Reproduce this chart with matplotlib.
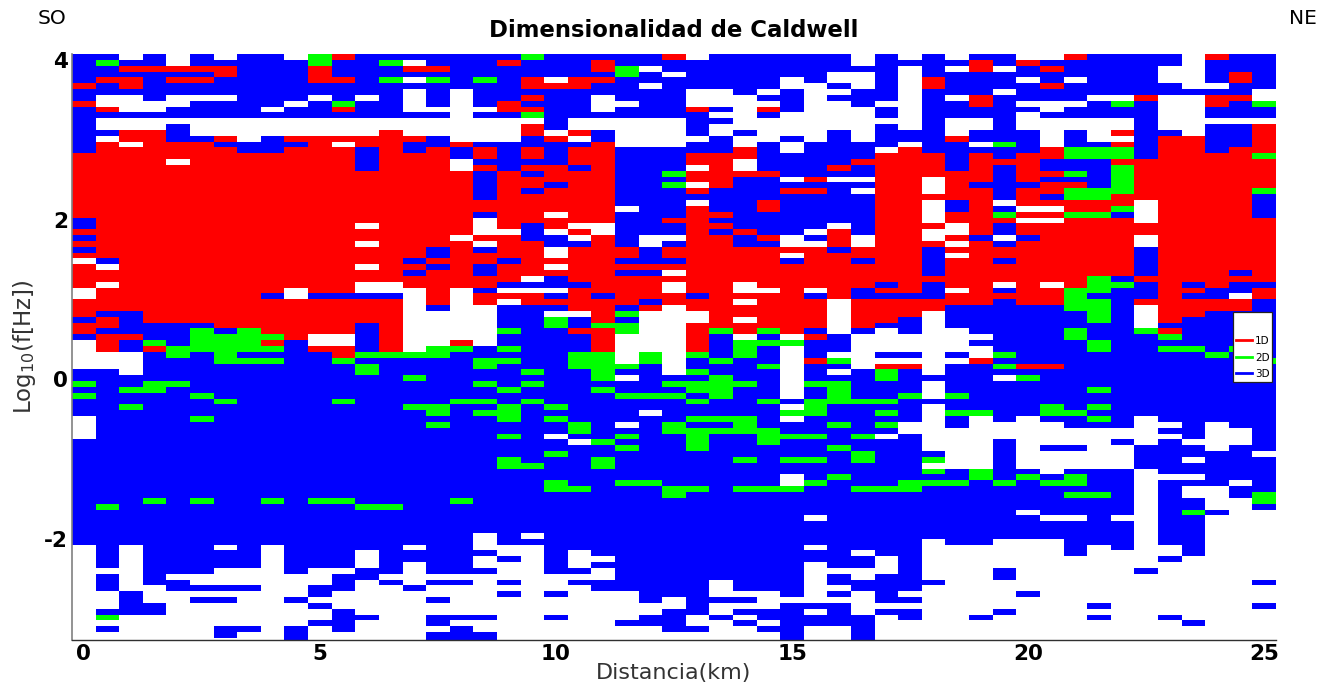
import numpy as np
import matplotlib
matplotlib.use("Agg")
import matplotlib.pyplot as plt
from matplotlib.colors import ListedColormap
from matplotlib.lines import Line2D

# dimensionalidad por estacion : letra + fila donde empieza (fila 0 = arriba)
# W = sin dato, R = 1D, G = 2D, B = 3D
col_runs = [
    "B0 R5 B6 R8 B9 R17 B28 R30 B31 R32 B33 R34 W35 R36 W40 R42 B45 R46 B48 W49 B54 G56 B57 G58 B59 W62 B66 W84",
    "B0 G1 B2 R4 B5 W7 R9 B10 W11 B13 W14 R15 B35 W36 R37 W39 R40 B44 R45 B47 R48 W51 B54 G77 B78 W88 B89 W92 B95 G96 W97 B98 W99",
    "W0 B1 R2 B3 R4 B6 W7 B10 W11 R13 W15 R16 B44 R48 B49 W51 B55 G57 B58 G60 B61 W84 B92 W96",
    "B0 R2 B3 W8 B10 W11 R13 B46 G49 R50 B51 G56 B58 G76 B77 W91 B94 W96",
    "W0 R2 B3 R4 B5 W7 B9 W11 B12 R15 W18 R19 B46 G50 B52 G56 B57 W89 B90 W92",
    "B0 R2 B3 R4 B5 W7 B8 W11 B14 R15 B46 G47 B51 G58 B59 G62 B63 G76 B77 W89 B91 W92 B93 W94",
    "W0 B1 R2 B4 W7 B8 W11 R14 B15 R16 B47 G48 B53 G59 B60 W84 B85 W88 B91 W92 B93 W94 B98 W100",
    "B0 W11 B15 R17 G47 B51 G52 B53 W88 B91 W92 B98 W99",
    "B0 W9 B10 W11 B14 R17 B41 R42 G48 R49 G50 B51 G52 B53 G76 B77 W84",
    "W0 B1 W8 B9 W11 R14 B15 R16 W40 R42 B49 W89 B93 W94 B98",
    "G0 R2 B5 W7 B8 W11 R14 B41 R42 W48 R50 B51 G76 B77 W88 B91 W93 B94 W95 B97 W98",
    "R0 B1 R4 B5 G8 R9 B10 W11 R14 W15 R16 B41 R42 W48 R50 G52 B53 G59 B60 G76 B77 W88 B89 W92 B95 W99",
    "B0 W7 B8 W11 R14 B16 R20 W29 R30 W32 R33 W36 R37 W39 B41 R42 B46 G51 B52 G53 B55 G77 B78 W85 B88 W90 B96 W97",
    "B0 G1 B2 G4 B5 W11 R13 W39 B41 R42 G51 B52 G77 B78 W89 B90 W91",
    "B0 W1 R2 B3 W4 B5 W6 B10 W11 R14 B15 R17 B35 R36 B37 R38 W40 G51 B52 G55 B56 G60 B61 W84 B85 W87 B91 W92",
    "B0 R2 B3 G4 B5 W9 B10 W11 B14 R16 B33 R35 B36 R37 B43 W44 G50 B52 G60 B62 G63 B64 W89 B90 W91 B93 W94 B96 W98 B99",
    "B0 W6 R15 B16 W18 R20 W31 R32 W40 R49 G50 B51 G59 B60 G76 B77 W89 B90 W91 B96 W97 B98",
    "B0 G4 B5 W9 B10 W11 B15 R16 B18 R19 B20 R25 B27 W28 R31 W32 B33 R34 B36 R38 B40 R41 W43 B50 G52 B54 G56 B57 G59 B60 G61 B62 W82 B85 W86 B88 W89 B96 W97 B99",
    "B0 R1 B2 R8 B10 W11 B15 R20 W30 R31 B35 R36 B39 W40 R41 W42 B43 G47 B48 G50 B51 G52 B53 G57 B58 G60 B63 G65 B66 G69 B71 W84 B86 W87 B90 W91 B92 W93",
    "G0 B1 R4 B6 R7 B8 R9 G10 W11 R12 B14 R16 B18 R19 B20 R21 B23 R24 B29 R32 W38 B39 W40 R41 B43 G54 B55 G56 B57 G59 B60 G70 B71 W82 B83 W84",
    "B0 W4 R5 B6 W13 R14 B15 R19 B22 R23 W27 R28 W30 B31 W33 R35 W36 R37 B38 W40 B41 R42 B43 W44 G45 B47 G60 B61 G62 B63 W65 B66 G68 B69 G73 B75 W89 B92 W93 B96 W97",
    "B0 R4 B6 W11 R13 W14 B15 R16 B19 R20 W29 R30 W31 B32 R33 B39 R40 W44 B45 R47 B48 G51 B54 G63 B65 W66 B67 G74 B75 W85 B88 W89 B90 W91",
    "B0 R1 B3 R4 B5 W7 B10 W11 B13 R15 W29 R31 B41 R42 G46 R47 G51 B56 G57 B58 G66 B67 G69 B71 W86 B87 W88 B90 W92",
    "B0 G2 B4 W8 B9 W11 B16 W26 B27 R33 B35 R36 B37 R38 B43 G44 B45 G46 W48 G53 B54 W55 B56 G58 B59 W63 B64 G65 B66 G67 B68 G73 B74 W92 B97 W98",
    "B0 W2 B3 W5 B6 W11 B16 W31 B33 R36 B37 R38 B42 R43 W44 G51 B53 G58 B59 W61 B62 G73 B74 W94 B96 W98",
    "R0 B1 W3 B4 W11 B16 G20 B21 G22 B23 R28 B29 W31 B32 R33 B35 R36 W37 R38 W39 R41 W43 B55 G56 B57 G58 B59 G63 B65 G74 B76 W93 B95 W99",
    "W0 B1 W6 R9 B10 W14 B15 R17 W19 R20 W22 R23 B24 W25 R26 B41 R42 W44 R46 G51 B52 G54 B55 G56 B58 G59 B60 G62 B63 G64 B68 G74 B75 W96 B98 W99",
    "B0 W6 B9 W10 B11 W12 B14 R17 B23 R27 B28 R29 B30 R31 G47 B48 G52 B53 G55 B59 G62 B63 G64 B65 W90 B93 W94 B96 W97",
    "B0 W7 B13 W14 R16 W18 R20 B21 R30 B31 R33 W39 R41 W42 R43 W45 R46 W48 G49 B52 G56 B57 G62 B65 G69 B70 G74 B75 W92 B93 W94 B95 W96 B97 W98",
    "B0 W6 B7 W8 R9 B10 W11 B15 R20 B21 R25 B27 R31 B32 R33 W40 R41 G47 B48 G49 B50 G53 B54 G59 B60 G64 B67 G74 B75 W92 B95 W97 B98 W99",
    "B0 W4 B6 W10 B14 W15 B17 W21 B22 R23 B24 W31 R33 W34 B35 R36 W48 G49 W50 B59 W60 G61 W62 B63 G65 B66 G69 B70 W72 G74 B75 W93 B94",
    "B0 W5 B15 R21 B22 R23 B24 W30 B31 W32 R33 W40 B41 R42 B47 R48 B49 R52 B53 G56 B57 G59 B62 G65 B66 G69 B70 G73 B74 W79 B80 W84 B85 W87 B94 W95 B96 W98",
    "B0 W3 B5 W6 B7 W8 B13 R19 B20 W21 B22 W29 R30 B33 R34 W42 B48 W51 G52 B53 W54 B55 G56 B60 G63 B64 G67 B68 G72 B73 W88 B89 W91 B92 W93 B94 W98",
    "W0 B2 W3 B6 W9 B15 R18 B19 W21 B22 W23 B24 W31 R33 B35 R36 B40 R42 B47 W48 B54 G59 B60 G65 B66 G68 B70 G74 B75 W85 B86 W88 B90 W92 B96",
    "B0 W8 B9 W11 B12 W16 R17 B39 R40 B41 R42 B46 W47 B51 W52 R53 G54 B56 G59 B60 G61 B62 G63 B64 W65 B66 G74 B75 W86 B89 W94 B95 W96",
    "W0 B1 W2 B13 W15 R16 B41 R42 B45 W48 B51 W52 R53 B54 G58 B59 W63 B65 G73 B75 W92 B93 W94 B95 W97",
    "B0 R4 B6 R17 W21 R24 W25 R29 W30 R32 B33 R38 B39 R42 W44 B55 W56 B59 W60 B68 G69 W70 G71 B72 G73 B74 W83 B90 W91",
    "W0 B1 W2 B3 W7 B8 W11 R14 B15 R20 B25 R27 W29 R31 W32 R33 W34 R35 W40 R41 B43 W47 B51 W52 B53 G58 B59 G61 B62 W64 B71 G73 B74 W84",
    "B0 R1 B3 R7 B9 W11 B13 W15 B16 R17 B22 R23 B31 R32 B43 W48 B49 W50 R52 B53 G61 W62 G71 B73 W84 B96 W97",
    "B0 W2 B3 W6 B7 G15 B16 R18 B19 W25 B26 G27 R28 B29 W31 B32 R33 B35 R36 W39 B40 R41 B42 G51 B52 G53 B54 W55 B56 W63 B66 G73 B74 W83 B88 W90 B95 W96",
    "W0 R1 B2 W4 B5 W8 B9 W10 B13 R17 B22 R23 W26 R27 W28 R29 B31 R32 B43 R53 B54 G55 B56 W62 B71 G72 B73 W78 B79 W83 B92 W93",
    "W0 B1 R2 B3 R5 B6 W8 B10 W11 R16 B18 R20 B21 R22 B24 R25 W26 R27 W28 R29 W39 R40 B43 R53 B54 G60 B62 W63 B67 W68 B72 G73 B74 W79 B80 W83",
    "R0 B1 W4 B5 W8 B9 W11 B13 G16 B18 G20 B21 R22 G23 R25 G27 R28 G40 B44 G47 B49 G61 B62 W64 B67 W68 B71 G72 B74 G75 B76 W79 B80 W86",
    "B0 W7 B8 W11 B15 G16 B18 G23 R25 G27 R28 G38 B41 G42 B46 G49 B51 G57 B58 G60 B61 G62 B63 W64 B71 G75 B76 W84 B94 W95 B96 W97",
    "B0 W7 G8 B9 W11 R13 W14 R15 G16 R18 G19 R24 G26 B27 R28 B38 G39 B40 W64 B66 W67 B71 W79 B80 W85",
    "B0 R7 B8 R18 W25 R29 W31 B33 R38 B39 R42 W43 G47 B48 W62 B67 W71 B88 W89",
    "B0 W2 B5 W7 B13 R14 B46 R47 G48 B49 G50 B51 W63 B64 W65 B66 W72 B73 W84 B86 W87 B96 W97",
    "W0 B6 W7 R14 B39 R40 B41 R42 B45 G50 B51 W66 B67 W69 B70 W72 B73 W74 B76 G78 B79 W86 B97 W98",
    "R0 B1 W5 B6 R7 B9 W11 B12 R17 B40 R42 B44 G51 B52 W63 B68 W74 B78 W79",
    "B0 R3 B5 R7 B8 W11 B12 R16 B37 R38 B39 W41 R42 B44 G50 B51 W64 B67 W73 B74 W76",
    "B0 W6 G8 B9 W11 R12 G17 R18 G23 B24 R28 B39 R40 B42 G52 B53 W68 B69 G75 B77 W78 B90 W91 B94 W95",
]
x_ticks = [0, 5, 10, 15, 20, 25]
y_ticks = [4, 2, 0, -2]
y_ticklabels = ["4", "2", "0", "-2"]
legend_labels = ["1D", "2D", "3D"]
CODES = {"W": 0, "R": 1, "G": 2, "B": 3}
N_ROWS = 101


def expand(runs):
    col = np.zeros(N_ROWS, dtype=int)
    for tok in runs.split():
        col[int(tok[1:]):] = CODES[tok[0]]
    return col


grid = np.column_stack([expand(r) for r in col_runs])
cmap = ListedColormap(["white", "#ff0000", "#00ff00", "#0000ff"])

x_edges = -0.25 + 0.5 * np.arange(grid.shape[1] + 1)
y_top, row_h = 4.075, 0.07314
y_edges = y_top - row_h * np.arange(N_ROWS + 1)

fig = plt.figure(figsize=(13.38, 6.9), dpi=100)
ax = fig.add_axes([72 / 1338, 50 / 690, 1204 / 1338, 586 / 690])
ax.pcolormesh(x_edges, y_edges, grid, cmap=cmap, vmin=0, vmax=3, shading="flat", rasterized=True)
ax.set_xlim(-0.25, 25.25)
ax.set_ylim(-3.264, y_top)

ax.set_xticks(x_ticks)
ax.set_yticks(y_ticks)
ax.set_yticklabels(y_ticklabels)
ax.tick_params(length=0, labelsize=15.5, pad=3)
for lab in ax.get_xticklabels() + ax.get_yticklabels():
    lab.set_fontweight("bold")
ax.spines["top"].set_visible(False)
ax.spines["right"].set_visible(False)
ax.spines["left"].set_color("#808080")
ax.spines["left"].set_linewidth(1.2)
ax.spines["bottom"].set_color("#303030")
ax.spines["bottom"].set_linewidth(1.0)

ax.set_title("Dimensionalidad de Caldwell", fontsize=16.4, fontweight="bold", pad=12)
ax.set_xlabel("Distancia(km)", fontsize=16, color="#333333", labelpad=-1)
ax.set_ylabel(r"Log$_{10}$(f[Hz])", fontsize=16.5, color="#333333", labelpad=4)
fig.text(52 / 1338, 1 - 19 / 690, "SO", fontsize=14.5, ha="center", va="center")
fig.text(1303 / 1338, 1 - 19 / 690, "NE", fontsize=14.5, ha="center", va="center")

handles = [Line2D([], [], color=c, lw=2) for c in ["#ff0000", "#00ff00", "#0000ff"]]
leg = ax.legend(handles, legend_labels, loc="upper left", bbox_to_anchor=((1233 - 72) / 1204, (640 - 312) / 586),
                borderaxespad=0, fontsize=7.5, handlelength=1.6, handletextpad=0.25, labelspacing=0.62,
                borderpad=0.25, fancybox=False, framealpha=1, edgecolor="#222222",
                title=" ", title_fontsize=11)
leg.get_frame().set_linewidth(0.9)

fig.savefig("out.png", dpi=100)
